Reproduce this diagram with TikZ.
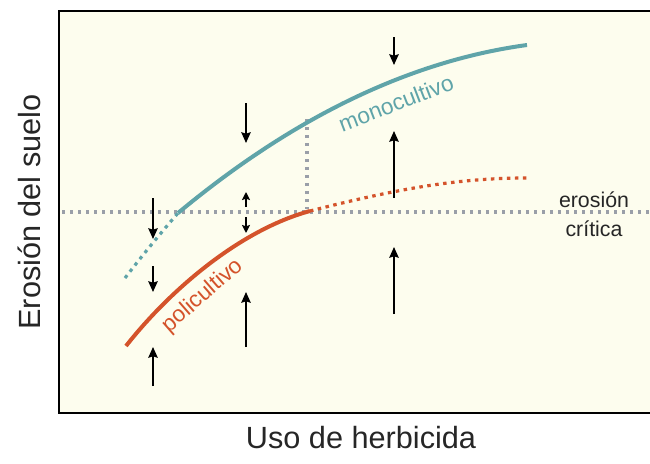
\documentclass[tikz,border=0pt]{standalone}
\usepackage{fontspec}
\setmainfont{Liberation Sans}
\usetikzlibrary{arrows.meta}
\definecolor{cream}{HTML}{FDFDEE}
\definecolor{mono}{HTML}{5FA4A9}
\definecolor{poli}{HTML}{D4532B}
\definecolor{critgray}{HTML}{9A9FA8}
\tikzset{
  flecha/.style={line width=1.5pt, -{Stealth[length=8pt, width=7pt, inset=1pt]}},
  punteado/.style={line width=2.6pt, dash pattern=on 2.6pt off 3.4pt},
  curva/.style={line width=3pt}
}
\begin{document}
\begin{tikzpicture}[x=0.75pt, y=-0.75pt]
  \useasboundingbox (0,0) rectangle (650,464);
  \fill[white] (0,0) rectangle (650,464);

  % panel
  \fill[cream] (59,11) rectangle (652,413);
  \draw[line width=2.2pt] (652,11) -- (59,11) -- (59,413) -- (652,413);

  % erosion critica
  \draw[critgray, punteado] (62,212) -- (650,212);
  \draw[critgray, punteado] (307,119) -- (307,209);

  % monocultivo
  \draw[mono, punteado, line width=2.4pt] (125,278) .. controls (145,252) and (160,234) .. (178,213);
  \draw[mono, curva] (178,213) .. controls (260,145) and (380,65) .. (527,45);

  % policultivo
  \draw[poli, curva] (126,346) .. controls (170,290) and (240,230) .. (310,211);
  \draw[poli, punteado, line width=2.4pt] (310,211) .. controls (400,188) and (460,178) .. (527,178);

  % flechas
  \draw[flecha] (153,198) -- (153,239);
  \draw[flecha] (153,266) -- (153,292);
  \draw[flecha] (153,386) -- (153,347);
  \draw[flecha] (246,103) -- (246,143);
  \draw[flecha, -{Stealth[length=6pt, width=6pt, inset=1pt]}] (246,207) -- (246,192);
  \draw[flecha, -{Stealth[length=6pt, width=6pt, inset=1pt]}] (246,217) -- (246,233);
  \draw[flecha] (246,347) -- (246,292);
  \draw[flecha] (394,37) -- (394,65);
  \draw[flecha] (394,198) -- (394,131);
  \draw[flecha] (394,314) -- (394,247);

  % etiquetas
  \node[mono, rotate=21, font=\fontsize{17}{20}\selectfont] (lblmono) at (396,103) {monocultivo};
  \node[poli, rotate=41, font=\fontsize{17}{20}\selectfont] (lblpoli) at (203,296) {policultivo};
  \node[font=\fontsize{16}{19}\selectfont, text=black!85] (lblero) at (594,200) {erosión};
  \node[font=\fontsize{16}{19}\selectfont, text=black!85] (lblcrit) at (594,229) {crítica};
  \node[font=\fontsize{23}{27}\selectfont, text=black!85] (ejex) at (361,438) {Uso de herbicida};
  \node[font=\fontsize{23}{27}\selectfont, text=black!85, rotate=90] (ejey) at (29,212) {Erosión del suelo};
\end{tikzpicture}
\end{document}
